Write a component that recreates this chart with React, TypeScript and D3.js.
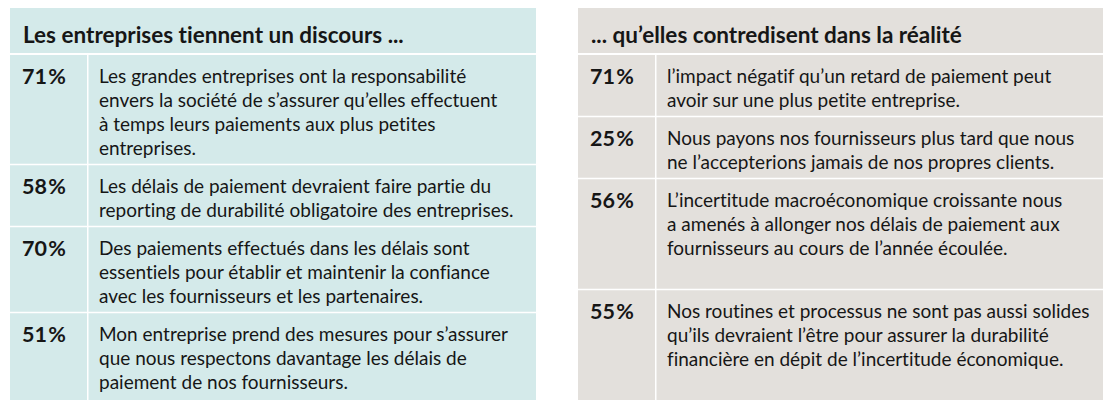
import React from "react";
import * as d3 from "d3";

const leftTitle = "Les entreprises tiennent un discours ...";
const rightTitle = "... qu’elles contredisent dans la réalité";

const leftValues = [71, 58, 70, 51];
const leftStatements = [
  [
    "Les grandes entreprises ont la responsabilité",
    "envers la société de s’assurer qu’elles effectuent",
    "à temps leurs paiements aux plus petites",
    "entreprises.",
  ],
  [
    "Les délais de paiement devraient faire partie du",
    "reporting de durabilité obligatoire des entreprises.",
  ],
  [
    "Des paiements effectués dans les délais sont",
    "essentiels pour établir et maintenir la confiance",
    "avec les fournisseurs et les partenaires.",
  ],
  [
    "Mon entreprise prend des mesures pour s’assurer",
    "que nous respectons davantage les délais de",
    "paiement de nos fournisseurs.",
  ],
];

const rightValues = [71, 25, 56, 55];
const rightStatements = [
  [
    "l’impact négatif qu’un retard de paiement peut",
    "avoir sur une plus petite entreprise.",
  ],
  [
    "Nous payons nos fournisseurs plus tard que nous",
    "ne l’accepterions jamais de nos propres clients.",
  ],
  [
    "L’incertitude macroéconomique croissante nous",
    "a amenés à allonger nos délais de paiement aux",
    "fournisseurs au cours de l’année écoulée.",
  ],
  [
    "Nos routines et processus ne sont pas aussi solides",
    "qu’ils devraient l’être pour assurer la durabilité",
    "financière en dépit de l’incertitude économique.",
  ],
];

const W = 1114;
const H = 413;
const TOP = 8;
const BOTTOM = 400;
const HEADER_BOTTOM = 54;
const LINE_H = 24;
const FONT = "Lato, 'Noto Sans', sans-serif";
const TEXT_COLOR = "#161616";

const fmt = d3.format("d");

type Row = { y0: number; y1: number; value: number; lines: string[] };

function layoutRows(values: number[], statements: string[][], stretchFrom: number): Row[] {
  const natural = statements.map((l) => LINE_H * l.length + 13);
  const rows: Row[] = [];
  let y = HEADER_BOTTOM + 1;
  for (let i = 0; i < stretchFrom; i++) {
    rows.push({ y0: y, y1: y + natural[i], value: values[i], lines: statements[i] });
    y += natural[i] + 1;
  }
  const rest = values.length - stretchFrom;
  const avail = BOTTOM - y - (rest - 1);
  for (let i = stretchFrom; i < values.length; i++) {
    const h = avail / rest;
    rows.push({ y0: y, y1: y + h, value: values[i], lines: statements[i] });
    y += h + 1;
  }
  return rows;
}

function Panel({
  x,
  width,
  fill,
  title,
  values,
  statements,
  stretchFrom,
}: {
  x: number;
  width: number;
  fill: string;
  title: string;
  values: number[];
  statements: string[][];
  stretchFrom: number;
}) {
  const rows = layoutRows(values, statements, stretchFrom);
  const divX = x + 77;
  return (
    <g style={{ fontVariantLigatures: "none" }}>
      <rect x={x} y={TOP} width={width} height={BOTTOM - TOP} fill={fill} />
      <text
        x={x + 13}
        y={43}
        fontFamily={FONT}
        fontWeight={700}
        fontSize={22.5}
        fill={TEXT_COLOR}
      >
        {title}
      </text>
      <rect x={x} y={HEADER_BOTTOM - 1} width={width} height={2} fill="#ffffff" />
      <rect x={divX} y={HEADER_BOTTOM} width={1.5} height={BOTTOM - HEADER_BOTTOM} fill="#ffffff" />
      {rows.map((r, i) => (
        <g key={i}>
          {i > 0 && (
            <rect x={x} y={r.y0 - 1.25} width={width} height={1.5} fill="#ffffff" />
          )}
          <text
            x={x + 12}
            y={r.y0 + 29}
            fontFamily={FONT}
            fontWeight={700}
            fontSize={21.5}
            fill={TEXT_COLOR}
          >
            {fmt(r.value) + "\u200A%"}
          </text>
          <text fontFamily={FONT} fontSize={19} fill={TEXT_COLOR}>
            {r.lines.map((line, j) => (
              <tspan key={j} x={x + 89} y={r.y0 + 28 + j * LINE_H}>
                {line}
              </tspan>
            ))}
          </text>
        </g>
      ))}
    </g>
  );
}

export default function App() {
  return (
    <svg
      width={W}
      height={H}
      viewBox={`0 0 ${W} ${H}`}
      style={{ position: "absolute", left: 0, top: 0, display: "block", background: "#ffffff" }}
    >
      <Panel
        x={10}
        width={526}
        fill="#d4eaea"
        title={leftTitle}
        values={leftValues}
        statements={leftStatements}
        stretchFrom={3}
      />
      <Panel
        x={578}
        width={525}
        fill="#e3e0dc"
        title={rightTitle}
        values={rightValues}
        statements={rightStatements}
        stretchFrom={2}
      />
    </svg>
  );
}
